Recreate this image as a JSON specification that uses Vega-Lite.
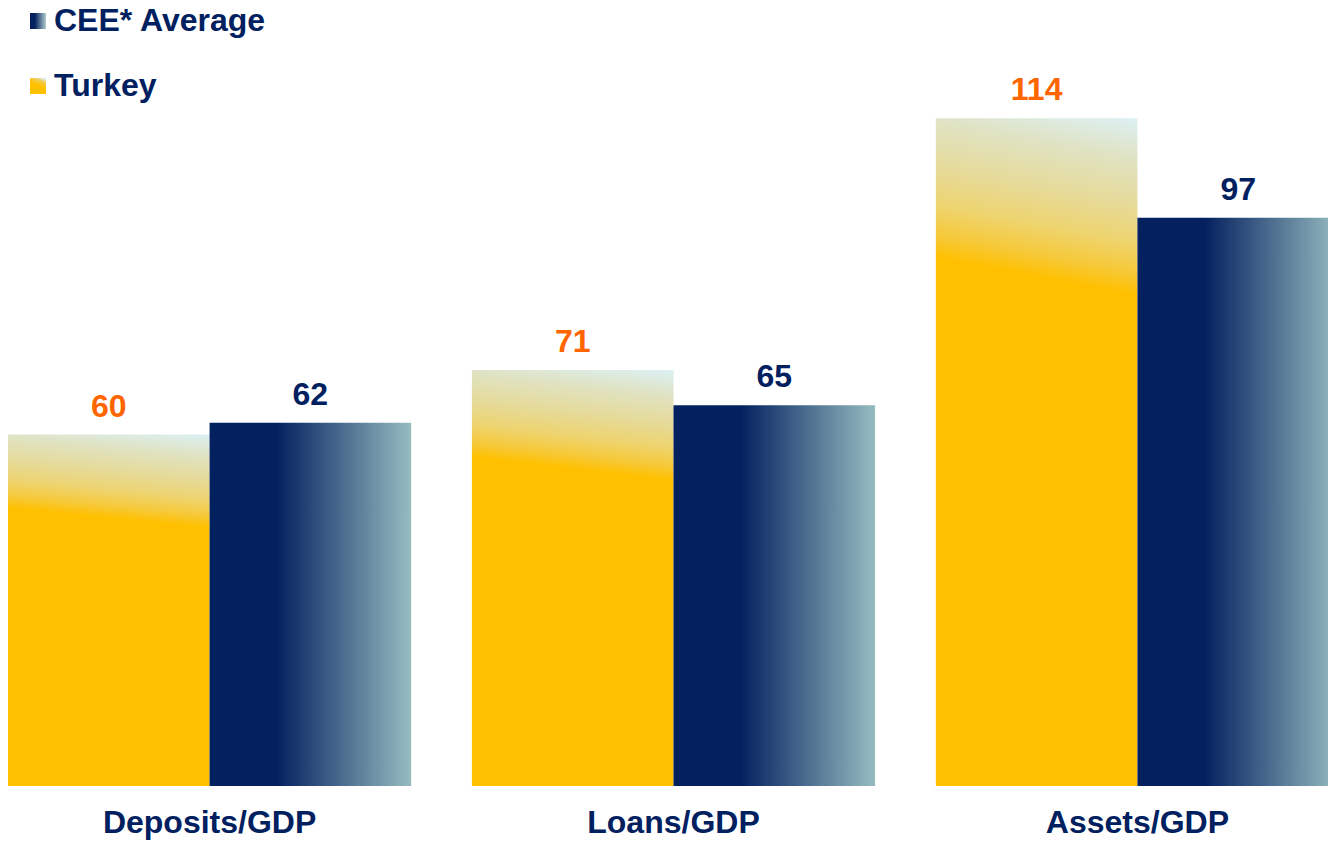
{
  "$schema": "https://vega.github.io/schema/vega-lite/v6.json",
  "autosize": {"type": "none"},
  "width": 1331,
  "height": 703,
  "padding": {"left": 8, "top": 83, "right": 0, "bottom": 56},
  "background": "white",
  "config": {
    "view": {"stroke": null},
    "font": "Liberation Sans"
  },
  "data": {
    "values": [
      {"metric": "Deposits/GDP", "series": "Turkey", "value": 60},
      {"metric": "Deposits/GDP", "series": "CEE* Average", "value": 62},
      {"metric": "Loans/GDP", "series": "Turkey", "value": 71},
      {"metric": "Loans/GDP", "series": "CEE* Average", "value": 65},
      {"metric": "Assets/GDP", "series": "Turkey", "value": 114},
      {"metric": "Assets/GDP", "series": "CEE* Average", "value": 97}
    ]
  },
  "encoding": {
    "x": {
      "field": "metric",
      "type": "nominal",
      "sort": ["Deposits/GDP", "Loans/GDP", "Assets/GDP"],
      "scale": {"paddingInner": 0.131, "paddingOuter": 0},
      "axis": {
        "title": null,
        "domain": false,
        "ticks": false,
        "labelAngle": 0,
        "labelFont": "Liberation Sans",
        "labelFontSize": 32,
        "labelFontWeight": "bold",
        "labelColor": "#002060",
        "labelPadding": 21,
        "labelLimit": 500
      }
    },
    "xOffset": {
      "field": "series",
      "type": "nominal",
      "sort": ["Turkey", "CEE* Average"],
      "scale": {"domain": ["Turkey", "CEE* Average"], "paddingInner": 0, "paddingOuter": 0}
    },
    "y": {
      "field": "value",
      "type": "quantitative",
      "scale": {"domain": [0, 120], "nice": false},
      "axis": null
    }
  },
  "resolve": {"scale": {"shape": "independent"}, "legend": {"shape": "independent"}},
  "layer": [
    {
      "transform": [{"filter": "datum.series === 'Turkey'"}],
      "mark": {
        "type": "bar",
        "color": {"gradient": "linear", "x1": 1, "y1": 0, "x2": 0.985, "y2": 0.265,
          "stops": [
            {"offset": 0, "color": "#dcf0f4"},
            {"offset": 0.25, "color": "#e0e2c0"},
            {"offset": 0.5, "color": "#e6da98"},
            {"offset": 0.7, "color": "#eed470"},
            {"offset": 0.87, "color": "#f6c93a"},
            {"offset": 1, "color": "#ffc000"}
          ]}
      }
    },
    {
      "transform": [{"filter": "datum.series !== 'Turkey'"}],
      "mark": {
        "type": "bar",
        "color": {"gradient": "linear", "x1": 0, "y1": 0, "x2": 1, "y2": 0,
          "stops": [
            {"offset": 0, "color": "#03205f"},
            {"offset": 0.33, "color": "#03205f"},
            {"offset": 1, "color": "#96bcc0"}
          ]}
      }
    },
    {
      "mark": {"type": "text", "baseline": "alphabetic", "dy": -18, "fontSize": 32, "fontWeight": "bold", "font": "Liberation Sans"},
      "encoding": {
        "text": {"field": "value", "type": "quantitative"},
        "color": {
          "condition": {"test": "datum.series === 'Turkey'", "value": "#ff6600"},
          "value": "#002060"
        }
      }
    },
    {
      "transform": [{"filter": "datum.series !== 'Turkey' && datum.metric === 'Deposits/GDP'"}],
      "mark": {
        "type": "point", "filled": true, "opacity": 0,
        "color": {"gradient": "linear", "x1": 0, "y1": 0, "x2": 1, "y2": 0,
          "stops": [
            {"offset": 0, "color": "#03205f"},
            {"offset": 0.3, "color": "#03205f"},
            {"offset": 1, "color": "#b0cccc"}
          ]}
      },
      "encoding": {
        "shape": {
          "datum": "CEE* Average",
          "type": "nominal",
          "scale": {"range": ["square"]},
          "legend": {
            "title": null,
            "orient": "none",
            "legendX": 14,
            "legendY": -78,
            "padding": 0,
            "symbolType": "square",
            "symbolSize": 256,
            "symbolStrokeWidth": 0,
            "symbolOpacity": 1,
            "labelFont": "Liberation Sans",
            "labelFontSize": 32,
            "labelFontWeight": "bold",
            "labelColor": "#002060",
            "labelOffset": 0,
            "labelLimit": 400
          }
        }
      }
    },
    {
      "transform": [{"filter": "datum.series === 'Turkey' && datum.metric === 'Deposits/GDP'"}],
      "mark": {
        "type": "point", "filled": true, "opacity": 0,
        "color": {"gradient": "linear", "x1": 0.8, "y1": 0, "x2": 0.6, "y2": 0.5,
          "stops": [
            {"offset": 0, "color": "#dceef2"},
            {"offset": 0.4, "color": "#f0cc50"},
            {"offset": 1, "color": "#ffc000"}
          ]}
      },
      "encoding": {
        "shape": {
          "datum": "Turkey",
          "type": "nominal",
          "scale": {"range": ["square"]},
          "legend": {
            "title": null,
            "orient": "none",
            "legendX": 14,
            "legendY": -13,
            "padding": 0,
            "symbolType": "square",
            "symbolSize": 256,
            "symbolStrokeWidth": 0,
            "symbolOpacity": 1,
            "labelFont": "Liberation Sans",
            "labelFontSize": 32,
            "labelFontWeight": "bold",
            "labelColor": "#002060",
            "labelOffset": 0,
            "labelLimit": 400
          }
        }
      }
    }
  ]
}
